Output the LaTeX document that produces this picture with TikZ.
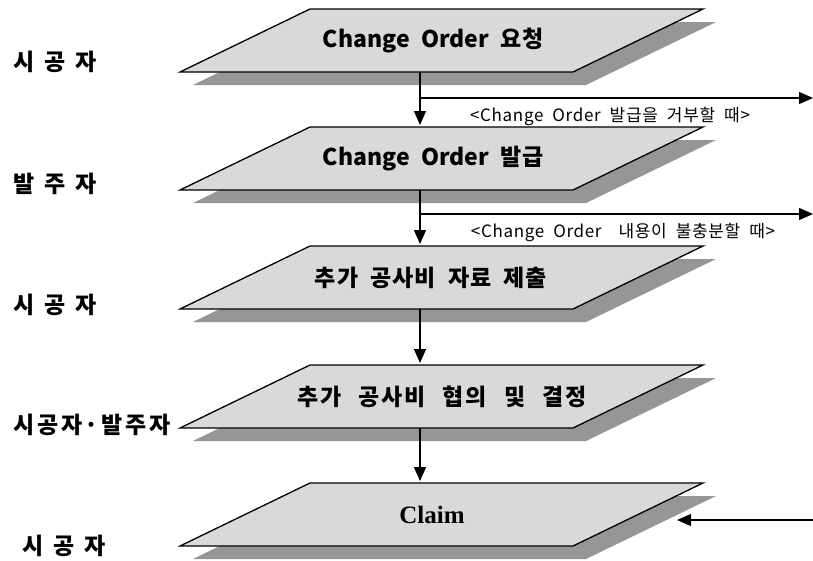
\documentclass[tikz,border=0pt]{standalone}
\usepackage{fontspec}
\setmainfont{Liberation Serif}
\newfontfamily\krbox[WordSpace=2.6,LetterSpace=4]{Noto Sans CJK KR}
\newfontfamily\krboxwide[WordSpace=2.4,LetterSpace=8]{Noto Sans CJK KR}
\newfontfamily\krorder[WordSpace=2.2]{Noto Sans CJK KR}
\newfontfamily\krrole[LetterSpace=12]{Noto Sans CJK KR}
\newfontfamily\krcond[WordSpace=2,LetterSpace=4]{Noto Sans CJK KR}
\usetikzlibrary{arrows.meta}
\definecolor{boxfill}{HTML}{D9D9D9}
\definecolor{shadowgray}{HTML}{969696}
\tikzset{
  plate/.style={fill=boxfill, draw=black, line width=1.3pt, line join=miter},
  plateshadow/.style={fill=shadowgray},
  flow/.style={line width=1.3pt, -{Triangle[width=12pt,length=14pt]}},
  boxtext/.style={font=\krbox\bfseries\fontsize{23}{23}\selectfont, inner sep=0pt},
  boxtextwide/.style={font=\krboxwide\bfseries\fontsize{23}{23}\selectfont, inner sep=0pt},
  ordertext/.style={font=\krorder\bfseries\fontsize{23}{23}\selectfont, inner sep=0pt},
  claimtext/.style={font=\bfseries\fontsize{25}{25}\selectfont, inner sep=0pt},
  role/.style={font=\krrole\bfseries\fontsize{23}{23}\selectfont, inner sep=0pt, anchor=west},
  cond/.style={font=\krcond\fontsize{17}{17}\selectfont, inner sep=0pt},
}
\begin{document}
\begin{tikzpicture}[x=1pt,y=-1pt]
\useasboundingbox[fill=white] (0,0) rectangle (813,560);
\foreach \T/\n in {9/1,127/2,246/3,365/4,483/5}{
  \fill[plateshadow] (193,\T+76) -- (586,\T+76) -- (716,\T+13) -- (323,\T+13) -- cycle;
  \draw[plate] (180,\T+63) -- (573,\T+63) -- (703,\T) -- (310,\T) -- cycle;
  \coordinate (top\n) at (420,\T);
  \coordinate (bot\n) at (420,\T+63);
}
% plate texts
\node[ordertext] (p1) at (433,40.5) {Change Order 요청};
\node[ordertext] (p2) at (433,159) {Change Order 발급};
\node[boxtext] (p3) at (431,277.5) {추가 공사비 자료 제출};
\node[boxtextwide] (p4) at (442,396.5) {추가 공사비 협의 및 결정};
\node[claimtext] (p5) at (432,515) {Claim};
% role labels
\node[role] (r1) at (13,62) {시\hspace{10pt}공\hspace{10pt}자};
\node[role] (r2) at (13,184) {발\hspace{10pt}주\hspace{10pt}자};
\node[role] (r3) at (13,305) {시\hspace{10pt}공\hspace{10pt}자};
\node[role] (r4) at (13,425) {시공자·발주자};
\node[role] (r5) at (22,546) {시\hspace{10pt}공\hspace{10pt}자};
% branch points
\coordinate (br1) at (420,98);
\coordinate (out1) at (813,98);
\coordinate (br2) at (420,214);
\coordinate (out2) at (813,214);
\coordinate (in5) at (813,520);
\coordinate (claimin) at (677,520);
% connectors
\draw[flow, shorten >=2pt] (bot1) -- (top2);
\draw[flow, shorten >=2pt] (bot2) -- (top3);
\draw[flow, shorten >=2pt] (bot3) -- (top4);
\draw[flow, shorten >=2pt] (bot4) -- (top5);
\draw[flow] (br1) -- (out1);
\draw[flow] (br2) -- (out2);
\draw[flow] (in5) -- (claimin);
% condition labels
\node[cond] (c1) at (610,117) {<Change Order 발급을 거부할 때>};
\node[cond] (c2) at (623,233) {<Change Order{\hspace{8pt}} 내용이 불충분할 때>};
\end{tikzpicture}
\end{document}
